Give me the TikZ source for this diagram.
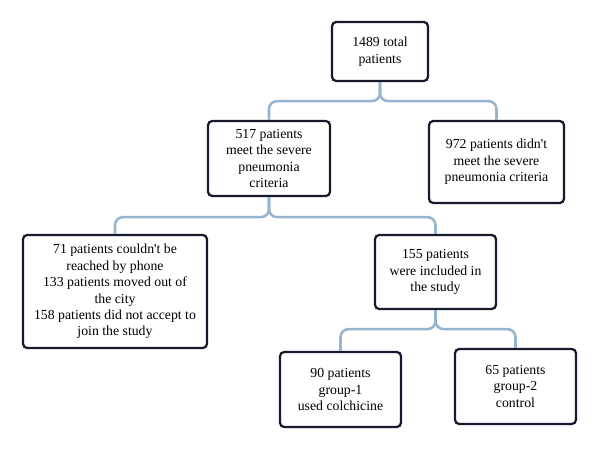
\documentclass[tikz,border=0pt]{standalone}
\usepackage{fontspec}
\setmainfont{Liberation Serif}
\usetikzlibrary{positioning}
\definecolor{navy}{RGB}{22,26,44}
\definecolor{steel}{RGB}{150,180,208}
\tikzset{
  box/.style={draw=navy,line width=1.6pt,rounded corners=3pt,fill=white,align=center,
    inner sep=2pt,font=\fontsize{9.8}{11.7}\selectfont,minimum width=#1},
  box/.default=30.25mm,
  link/.style={draw=steel,line width=1.8pt,rounded corners=2mm},
}
\begin{document}
\begin{tikzpicture}[x=0.25mm,y=-0.25mm]
  \useasboundingbox (0,0) rectangle (600,450);
  % boxes
  \node[box=24mm,minimum height=14.75mm] (total) at (380,51.5) {1489 total\\patients};
  \node[box=30.5mm,minimum height=18.75mm] (severe) at (269,158.5) {517 patients\\meet the severe\\pneumonia\\criteria};
  \node[box=33.75mm,minimum height=20.5mm] (notsevere) at (496.5,162) {972 patients didn\textquotesingle t\\meet the severe\\pneumonia criteria};
  \node[box=46mm,minimum height=28.25mm] (lost) at (115,291.5) {71 patients couldn\textquotesingle t be\\reached by phone\\133 patients moved out of\\the city\\158 patients did not accept to\\join the study};
  \node[box,minimum height=18.5mm] (included) at (435.5,272) {155 patients\\were included in\\the study};
  \node[box,minimum height=18.75mm] (colch) at (340.5,389.5) {90 patients\\group-1\\used colchicine};
  \node[box,minimum height=18.75mm] (control) at (515.5,386.5) {65 patients\\group-2\\control};
  % braces
  \draw[link] (total.south) -- ++(0,19) -| (severe.north);
  \draw[link] (total.south) -- ++(0,19) -| (notsevere.north);
  \draw[link] (severe.south) -- ++(0,20) -| (lost.north);
  \draw[link] (severe.south) -- ++(0,20) -| (included.north);
  \draw[link] (included.south) -- ++(0,19) -| (colch.north);
  \draw[link] (included.south) -- ++(0,19) -| (control.north);
\end{tikzpicture}
\end{document}
